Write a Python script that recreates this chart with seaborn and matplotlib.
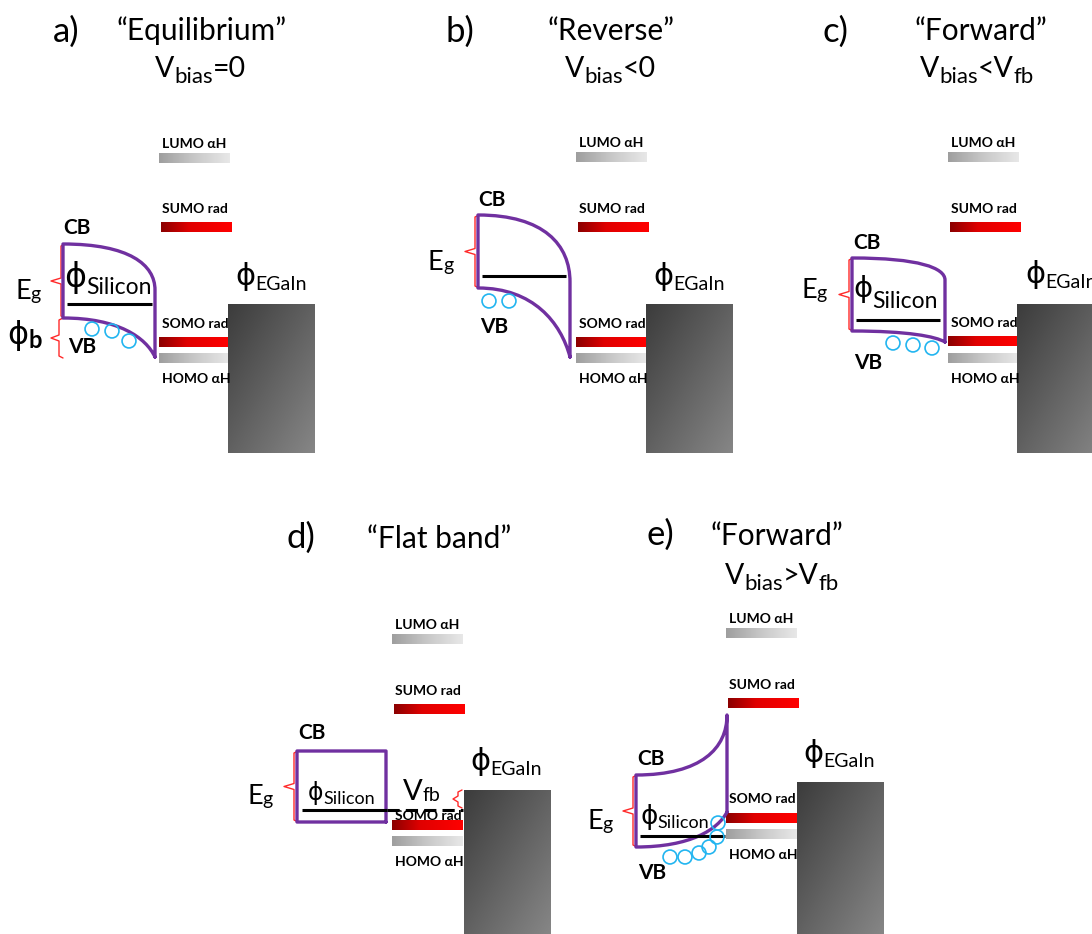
import numpy as np
import pandas as pd
import matplotlib
matplotlib.use("Agg")
import matplotlib.pyplot as plt
import seaborn as sns
from matplotlib.path import Path
from matplotlib.patches import PathPatch
from matplotlib.colors import LinearSegmentedColormap

# ---------------- data ----------------
panel_letters = ["a)", "b)", "c)", "d)", "e)"]
letter_x = [53, 445, 822, 287, 646]
letter_y = [42, 42, 42, 548, 545]

titles = ["“Equilibrium”", "“Reverse”", "“Forward”", "“Flat band”", "“Forward”"]
title_x = [117, 548, 915, 367, 711]
title_y = [40, 40, 40, 548, 545]

bias_main = ["V", "V", "V", None, "V"]
bias_rest = [["=0"], ["<0"], ["<V", "fb"], None, [">V", "fb"]]
bias_x = [155, 565, 920, None, 725]
bias_y = [77, 77, 77, None, 584]

level_names = ["LUMO αH", "SUMO rad", "SOMO rad", "HOMO αH"]
level_x = [159, 576, 948, 392, 726]
lumo_y = [153, 152, 152, 634, 628]
sumo_y = [222, 222, 222, 704, 698]
somo_y = [337, 337, 336, 820, 813]
homo_y = [353, 353, 353, 836, 829]
somo_label_y = [328, 328, 327, 820, 803]

egain_x = [228, 646, 1017, 464, 797]
egain_top = [304, 304, 304, 790, 782]
egain_bottom = [453, 453, 453, 934, 934]
egain_label_x = [235, 653, 1025, 470, 803]
egain_label_y = [285, 285, 283, 770, 762]

band_left = [63, 478, 852, 297, 636]
band_right = [155, 570, 945, 386, 727]
band_top = [244, 215, 258, 751, 775]
band_bottom = [318, 288, 331, 822, 847]
band_right_top = [290, 282, 280, 751, 715]
band_right_bottom = [357, 357, 342, 822, 812]

fermi_x0 = [67, 482, 856, 302, 640]
fermi_x1 = [152, 566, 940, 387, 725]
fermi_y = [304, 276, 320, 810, 836]
vfb_dash_x = [387, 463]

hole_panel = ["a"] * 3 + ["b"] * 2 + ["c"] * 3 + ["e"] * 6
hole_x = [92, 112, 129, 489, 509, 893, 913, 932, 670, 685, 699, 709, 717, 718]
hole_y = [329, 331, 341, 301, 301, 343, 345, 348, 857, 857, 853, 847, 837, 823]

cb_x = [63, 478, 853, 298, 637]
cb_y = [234, 206, 249, 739, 765]
vb_x = [68, 480, 854, None, 638]
vb_y = [353, 333, 369, None, 879]

eg_x = [15, 428, 801, 247, 587]
eg_y = [299, 270, 298, 804, 829]
eg_bracket_x = [61, 475, 849, 294, 633]

si_x = [64, None, 853, 308, 640]
si_y = [287, None, 297, 800, 824]
si_drop = [7, None, 11, 4, 4]
si_phi_size = [24, None, 21, 17, 19]
si_sub_size = [16.5, None, 16.5, 13, 13]

# ---------------- style ----------------
sns.set_theme(style="white")
plt.rcParams["font.family"] = ["Lato", "DejaVu Sans"]
plt.rcParams["text.color"] = "black"
FAM = ["Lato", "DejaVu Sans"]
PHI = ["DejaVu Sans"]
PURPLE = "#7030a0"
RED = "#ff2a2a"
HOLE = "#22b5f0"
BAR_W = 71
BAR_H = 10

gray_cmap = LinearSegmentedColormap.from_list("g", ["#9e9e9e", "#c8c8c8", "#e8e8e8"])
red_cmap = LinearSegmentedColormap.from_list("r", [(0, "#8a0000"), (0.4, "#e00000"), (1, "#ff0000")])
metal_cmap = LinearSegmentedColormap.from_list("m", ["#3c3c3c", "#868686"])

fig = plt.figure(figsize=(10.92, 9.34), dpi=100)
ax = fig.add_axes([0, 0, 1, 1])
ax.set_xlim(0, 1092)
ax.set_ylim(934, 0)
ax.set_autoscale_on(False)
ax.axis("off")
renderer = fig.canvas.get_renderer()

hgrad = np.linspace(0, 1, 256)[None, :]
ii, jj = np.mgrid[0:64, 0:64]
dgrad = (ii + jj) / 126.0


def gbar(x0, y0, w, h, cmap, grad=hgrad):
    ax.imshow(grad, extent=(x0, x0 + w, y0 + h, y0), cmap=cmap, aspect="auto",
              interpolation="bicubic", zorder=1)


def rich(x, y, parts):
    cx = x
    for text, size, dy, fam, wt in parts:
        t = ax.text(cx, y + dy, text, fontsize=size, family=fam, fontweight=wt,
                    ha="left", va="baseline", color="black", zorder=5)
        cx += t.get_window_extent(renderer).width


def bracket(x, y0, y1, tick=10, hook=4):
    ym = (y0 + y1) / 2
    xs = [x + hook, x, x, x - tick, x, x, x + hook]
    ys = [y0, y0 + 2, ym - 3, ym, ym + 3, y1 - 2, y1]
    ax.plot(xs, ys, color=RED, lw=1.0, zorder=3, solid_joinstyle="round")


def band(L, R, T, B, RT, RB):
    w = R - L
    verts = [(R, RB), (R, RT), (R, T + 0.45 * (RT - T)), (L + 0.72 * w, T), (L, T),
             (L, B), (L + 0.6 * w, B), (R - 0.1 * w, B + 0.5 * (RB - B)), (R, RB)]
    codes = [Path.MOVETO, Path.LINETO, Path.CURVE4, Path.CURVE4, Path.CURVE4,
             Path.LINETO, Path.CURVE4, Path.CURVE4, Path.CURVE4]
    ax.add_patch(PathPatch(Path(verts, codes), fill=False, edgecolor=PURPLE, lw=2.4,
                           joinstyle="round", capstyle="round", zorder=4))


for k in range(5):
    # titles
    ax.text(letter_x[k], letter_y[k], panel_letters[k], fontsize=25, family=FAM,
            ha="left", va="baseline")
    ax.text(title_x[k], title_y[k], titles[k], fontsize=21.5, family=FAM,
            ha="left", va="baseline")
    if bias_main[k] is not None:
        parts = [(bias_main[k], 20.5, 0, FAM, "normal"), ("bias", 16, 6, FAM, "normal")]
        for j, r in enumerate(bias_rest[k]):
            if j % 2 == 0:
                parts.append((r, 20.5, 0, FAM, "normal"))
            else:
                parts.append((r, 16, 6, FAM, "normal"))
        rich(bias_x[k], bias_y[k], parts)

    # molecular levels
    lx = level_x[k]
    gbar(lx, lumo_y[k], BAR_W, BAR_H, gray_cmap)
    gbar(lx + 2, sumo_y[k], BAR_W, BAR_H, red_cmap)
    gbar(lx, somo_y[k], BAR_W, BAR_H, red_cmap)
    gbar(lx, homo_y[k], BAR_W, BAR_H, gray_cmap)
    lab_y = [lumo_y[k] - 5, sumo_y[k] - 9, somo_label_y[k], homo_y[k] + 30]
    for name, yy in zip(level_names, lab_y):
        ax.text(lx + 3, yy, name, fontsize=10, fontweight="bold", family=FAM,
                ha="left", va="baseline", zorder=5)

    # EGaIn electrode
    gbar(egain_x[k], egain_top[k], 87, egain_bottom[k] - egain_top[k], metal_cmap, dgrad)
    rich(egain_label_x[k], egain_label_y[k],
         [("ϕ", 22, 0, PHI, "normal"), ("EGaIn", 14, 5, FAM, "normal")])

    # silicon bands
    band(band_left[k], band_right[k], band_top[k], band_bottom[k],
         band_right_top[k], band_right_bottom[k])
    ax.plot([fermi_x0[k], fermi_x1[k]], [fermi_y[k], fermi_y[k]], color="black",
            lw=2.2, solid_capstyle="butt", zorder=4)

    ax.text(cb_x[k], cb_y[k], "CB", fontsize=15, fontweight="bold", family=FAM,
            ha="left", va="baseline")
    if vb_x[k] is not None:
        ax.text(vb_x[k], vb_y[k], "VB", fontsize=15, fontweight="bold", family=FAM,
                ha="left", va="baseline")

    rich(eg_x[k], eg_y[k], [("E", 19.5, 0, FAM, "normal"), ("g", 14, 1, FAM, "normal")])
    bracket(eg_bracket_x[k], band_top[k], band_bottom[k])

    if si_x[k] is not None:
        rich(si_x[k], si_y[k], [("ϕ", si_phi_size[k], 0, PHI, "normal"),
                                 ("Silicon", si_sub_size[k], si_drop[k], FAM, "normal")])

# panel a: barrier height
bracket(59, band_bottom[0], band_right_bottom[0] + 1, tick=8)
rich(7, 344, [("ϕ", 23, 0, PHI, "normal"), ("b", 17, 4, FAM, "bold")])

# panel d: flat-band voltage
ax.plot(vfb_dash_x, [fermi_y[3], fermi_y[3]], color="black", lw=2.2,
        dashes=(4, 2), zorder=4)
rich(403, 800, [("V", 21, 0, FAM, "normal"), ("fb", 14, 1, FAM, "normal")])
bracket(458, 790, 808, tick=5, hook=4)

# holes in the valence band
holes = pd.DataFrame({"panel": hole_panel, "x": hole_x, "y": hole_y})
sns.scatterplot(data=holes, x="x", y="y", ax=ax, s=100, marker="o",
                facecolor="none", edgecolor=HOLE, linewidth=1.2, legend=False, zorder=6)

ax.set_xlim(0, 1092)
ax.set_ylim(934, 0)
ax.axis("off")
fig.savefig("out.png", dpi=100)
